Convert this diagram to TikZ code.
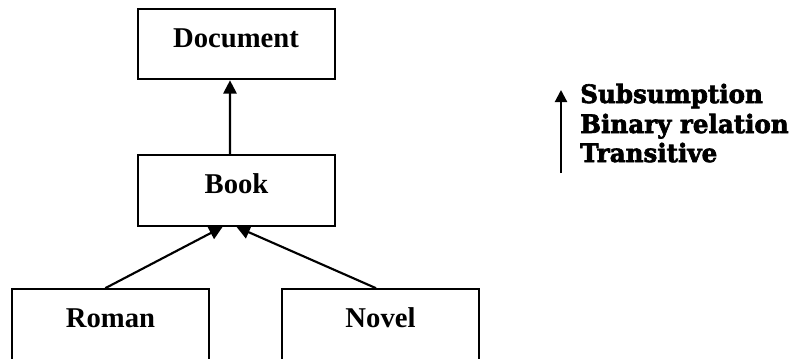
\documentclass[tikz,border=0pt]{standalone}
\usepackage{fontspec}
\setmainfont{Liberation Serif}
\newfontfamily\legendfont[FakeBold=2.5,FakeStretch=0.97]{DejaVu Serif Bold}
\usetikzlibrary{arrows.meta}

\tikzset{
  concept/.style={draw, line width=1.5pt, rectangle, inner sep=0pt,
    minimum width=147.75pt, minimum height=53pt,
    text height=14.25pt, text depth=9.75pt,
    font=\fontsize{21.5pt}{24pt}\selectfont\bfseries},
  isa/.style={line width=1.6pt, -{Triangle[length=10pt,width=10pt]}},
  legendtext/.style={anchor=base west, inner sep=0pt,
    font=\fontsize{19pt}{22pt}\legendfont}
}

\begin{document}
\begin{tikzpicture}[x=0.75pt,y=-0.75pt]
  \useasboundingbox (0,0) rectangle (795,358);

  % concept hierarchy
  \node[concept] (doc)   at (236,44)    {Document};
  \node[concept] (book)  at (236.5,190.5) {Book};
  \node[concept] (roman) at (110.5,324.5) {Roman};
  \node[concept] (novel) at (380.5,324.5) {Novel};

  \draw[isa] ([xshift=-4.9pt]book.north) -- ([xshift=-4.5pt]doc.south);
  \draw[isa] ([xshift=-3.9pt]roman.north) -- ([xshift=-10.4pt]book.south);
  \draw[isa] ([xshift=-3.4pt]novel.north) -- ([xshift=0pt]book.south);

  % legend
  \coordinate (legbot) at (561,173);
  \coordinate (legtop) at (561,90);
  \draw[line width=1.6pt, -{Triangle[length=9pt,width=9pt]}] (legbot) -- (legtop);
  \node[legendtext] (l1) at (580,103) {Subsumption};
  \node[legendtext] (l2) at (580,133) {Binary relation};
  \node[legendtext] (l3) at (580,162) {Transitive};
\end{tikzpicture}
\end{document}
